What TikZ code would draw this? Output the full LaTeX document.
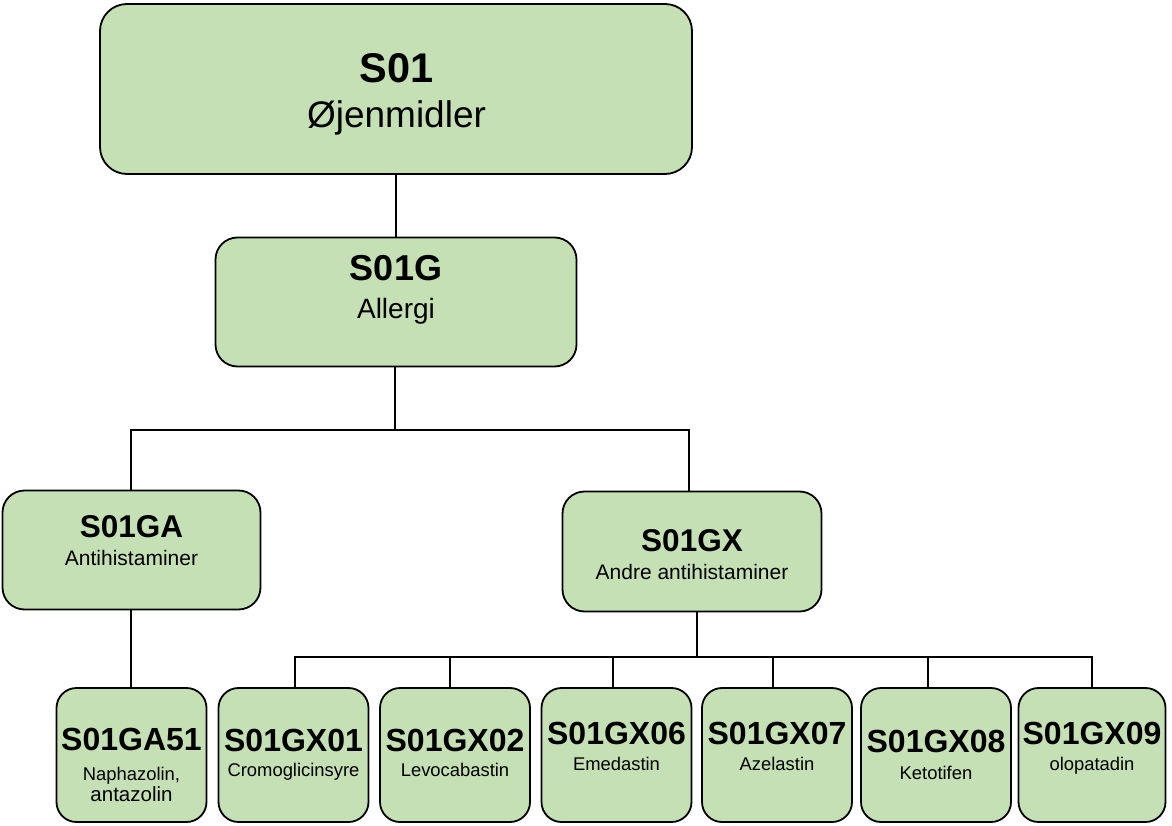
\documentclass[tikz,border=0pt]{standalone}
\usepackage{fontspec}
\setmainfont{Liberation Sans}
\definecolor{boxgreen}{RGB}{197,224,180}
\begin{document}
\begin{tikzpicture}[x=1pt,y=-1pt,
  box/.style={draw=black, line width=1.8pt, fill=boxgreen, rounded corners=#1, inner sep=0pt},
  box/.default=20pt,
  wire/.style={draw=black, line width=1.5pt},
  title/.style={anchor=base, inner sep=0pt, font=\bfseries\fontsize{#1}{#1}\selectfont},
  sub/.style={anchor=base, inner sep=0pt, align=center, font=\fontsize{#1}{21}\selectfont}
]
\useasboundingbox (0,0) rectangle (1172,826);

% --- level 1 ---
\node[box=27pt, minimum width=592pt, minimum height=170pt] (s01) at (396,89) {};
\node[title=41.5] (s01-t) at (396.5,83) {S01};
\node[sub=37] (s01-s) at (396.5,128) {Øjenmidler};

% --- level 2 ---
\node[box=22pt, minimum width=361pt, minimum height=129pt] (s01g) at (396,302) {};
\node[title=36] (s01g-t) at (396,280) {S01G};
\node[sub=28] (s01g-s) at (396,318) {Allergi};

% --- level 3 ---
\node[box=22pt, minimum width=258pt, minimum height=119pt] (s01ga) at (131.5,550) {};
\node[title=31.5] (s01ga-t) at (131.5,537) {S01GA};
\node[sub=21] (s01ga-s) at (131.5,565) {Antihistaminer};

\node[box=22pt, minimum width=259pt, minimum height=120pt] (s01gx) at (692,551.5) {};
\node[title=31.5] (s01gx-t) at (692,551) {S01GX};
\node[sub=21] (s01gx-s) at (692,579) {Andre antihistaminer};

% --- level 4 ---
\node[box=20pt, minimum width=150pt, minimum height=134pt] (a51) at (131.5,755) {};
\node[title=32] (a51-t) at (131.5,750) {S01GA51};
\node[sub=18.4] (a51-s) at (131.5,780) {Naphazolin,};
\node[sub=20.5] (a51-s2) at (131.5,801) {antazolin};

\node[box=20pt, minimum width=150pt, minimum height=134pt] (x01) at (293.5,755) {};
\node[title=32] (x01-t) at (293.5,751) {S01GX01};
\node[sub=18.4] (x01-s) at (293.5,776) {Cromoglicinsyre};

\node[box=20pt, minimum width=150pt, minimum height=134pt] (x02) at (455,755) {};
\node[title=32] (x02-t) at (455,751) {S01GX02};
\node[sub=18.4] (x02-s) at (455,776) {Levocabastin};

\node[box=20pt, minimum width=150pt, minimum height=134pt] (x06) at (616.5,755) {};
\node[title=32] (x06-t) at (616.5,744) {S01GX06};
\node[sub=18.4] (x06-s) at (616.5,770) {Emedastin};

\node[box=20pt, minimum width=150pt, minimum height=134pt] (x07) at (777,755) {};
\node[title=32] (x07-t) at (777,744) {S01GX07};
\node[sub=18.4] (x07-s) at (777,770) {Azelastin};

\node[box=20pt, minimum width=150pt, minimum height=134pt] (x08) at (936,755) {};
\node[title=32] (x08-t) at (936,752) {S01GX08};
\node[sub=18.4] (x08-s) at (936,779) {Ketotifen};

\node[box=20pt, minimum width=147pt, minimum height=134pt] (x09) at (1092,755) {};
\node[title=32] (x09-t) at (1092,744) {S01GX09};
\node[sub=18.4] (x09-s) at (1092,770) {olopatadin};

% --- junctions ---
\coordinate (jg) at (395,430);
\coordinate (jx) at (697,657);

% --- connectors ---
\draw[wire] (s01.south) -- (s01.south |- s01g.north);
\draw[wire] ([xshift=-1pt]s01g.south) -- (jg);
\draw[wire] ([xshift=-0.5pt]s01ga.north) |- (jg) -| ([xshift=-3pt]s01gx.north);
\draw[wire] ([xshift=-0.5pt]s01ga.south) -- ([xshift=-0.5pt]a51.north);
\draw[wire] ([xshift=5pt]s01gx.south) -- (jx);
\draw[wire] ([xshift=1.5pt]x01.north) |- (jx) -| (x09.north);
\draw[wire] ([xshift=-5pt]x02.north) -- ([xshift=-5pt]x02.north |- jx);
\draw[wire] ([xshift=-3.5pt]x06.north) -- ([xshift=-3.5pt]x06.north |- jx);
\draw[wire] ([xshift=-4pt]x07.north) -- ([xshift=-4pt]x07.north |- jx);
\draw[wire] ([xshift=-8pt]x08.north) -- ([xshift=-8pt]x08.north |- jx);
\end{tikzpicture}
\end{document}
